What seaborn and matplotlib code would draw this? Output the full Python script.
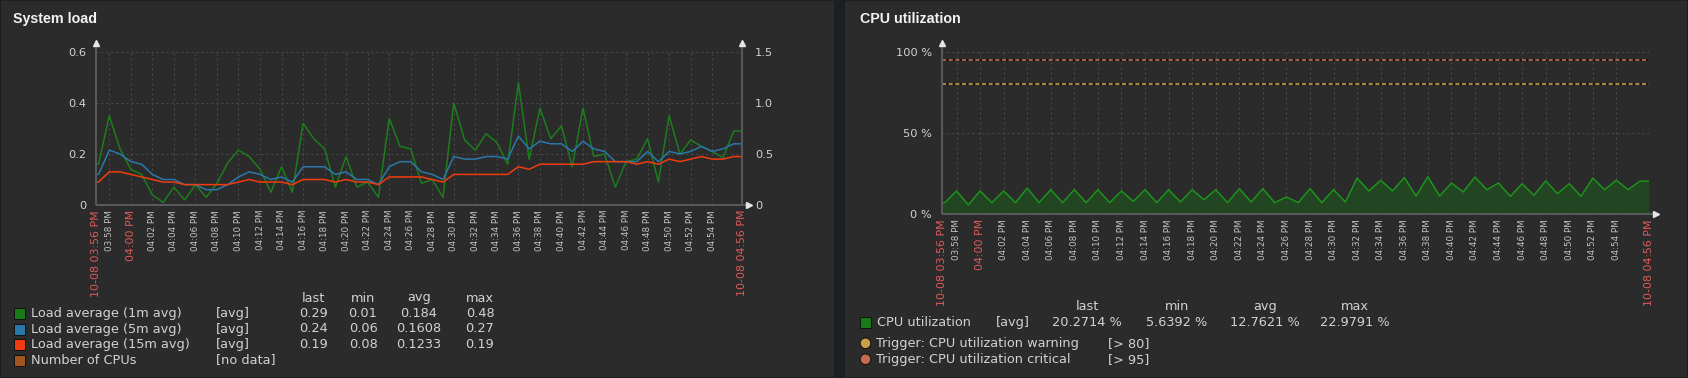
import numpy as np
import pandas as pd
import matplotlib
matplotlib.use("Agg")
import matplotlib.pyplot as plt
import seaborn as sns
from matplotlib.patches import Rectangle, Circle

W, H = 1688, 378

# one reading per minute, minutes after 15:00 (03:57 PM .. 04:56 PM)
minutes = list(range(57, 117))
range_start = 56 + 46 / 60
range_end = range_start + 60

load_1m = [0.16, 0.35, 0.22, 0.14, 0.12, 0.04, 0.01, 0.07, 0.02, 0.08,
           0.03, 0.085, 0.165, 0.215, 0.19, 0.14, 0.05, 0.15, 0.05, 0.32,
           0.26, 0.22, 0.07, 0.19, 0.07, 0.09, 0.03, 0.34, 0.23, 0.22,
           0.085, 0.10, 0.03, 0.40, 0.255, 0.215, 0.28, 0.245, 0.16, 0.48,
           0.18, 0.38, 0.26, 0.31, 0.15, 0.38, 0.19, 0.20, 0.07, 0.17,
           0.18, 0.26, 0.09, 0.35, 0.20, 0.255, 0.23, 0.21, 0.185, 0.29]
load_5m = [0.12, 0.215, 0.20, 0.17, 0.16, 0.12, 0.10, 0.10, 0.08, 0.08,
           0.06, 0.06, 0.08, 0.11, 0.13, 0.12, 0.10, 0.11, 0.09, 0.15,
           0.15, 0.15, 0.12, 0.13, 0.10, 0.10, 0.08, 0.15, 0.17, 0.17,
           0.13, 0.12, 0.10, 0.19, 0.18, 0.18, 0.19, 0.19, 0.18, 0.27,
           0.22, 0.25, 0.24, 0.24, 0.21, 0.25, 0.22, 0.21, 0.17, 0.17,
           0.17, 0.21, 0.17, 0.21, 0.20, 0.21, 0.23, 0.21, 0.22, 0.24]
load_15m = [0.09, 0.13, 0.13, 0.12, 0.11, 0.10, 0.09, 0.09, 0.08, 0.08,
            0.08, 0.08, 0.08, 0.09, 0.10, 0.09, 0.09, 0.09, 0.08, 0.10,
            0.10, 0.10, 0.09, 0.10, 0.09, 0.09, 0.08, 0.11, 0.11, 0.11,
            0.11, 0.10, 0.09, 0.12, 0.12, 0.12, 0.12, 0.12, 0.12, 0.15,
            0.14, 0.16, 0.16, 0.16, 0.16, 0.16, 0.17, 0.17, 0.17, 0.17,
            0.16, 0.17, 0.16, 0.18, 0.17, 0.18, 0.19, 0.18, 0.18, 0.19]
cpu_util = [7.0, 14.2, 5.64, 14.2, 7.0, 14.2, 7.0, 16.0, 7.0, 15.0,
            7.0, 15.0, 7.0, 15.0, 7.0, 14.2, 7.8, 15.0, 7.0, 15.0,
            7.4, 15.0, 8.8, 15.0, 7.0, 15.6, 7.4, 15.6, 7.0, 10.5,
            7.0, 15.6, 7.0, 15.0, 7.4, 22.2, 14.2, 20.8, 14.2, 22.5,
            11.1, 22.98, 11.1, 19.1, 13.6, 22.8, 15.0, 19.1, 10.9, 18.7,
            11.5, 20.4, 12.6, 18.7, 10.9, 22.2, 15.0, 20.8, 15.0, 20.27]

load_names = ["Load average (1m avg)", "Load average (5m avg)",
              "Load average (15m avg)", "Number of CPUs"]
load_funcs = ["[avg]", "[avg]", "[avg]", "[no data]"]
load_colors = ["#1a7a1a", "#2a78aa", "#f03c0e", "#a0561e"]
load_last = ["0.29", "0.24", "0.19"]
load_min = ["0.01", "0.06", "0.08"]
load_avg = ["0.184", "0.1608", "0.1233"]
load_max = ["0.48", "0.27", "0.19"]

cpu_name = "CPU utilization"
cpu_stats = ["20.2714 %", "5.6392 %", "12.7621 %", "22.9791 %"]
trigger_names = ["Trigger: CPU utilization warning", "Trigger: CPU utilization critical"]
trigger_levels = [80, 95]
trigger_colors = ["#c9a04a", "#c46a52"]

sns.set_theme(style="dark", rc={"figure.facecolor": "#1c1f22",
                                "axes.facecolor": "none",
                                "lines.scale_dashes": False})
plt.rcParams["font.family"] = ["DejaVu Sans"]

PANEL = "#2b2b2b"
AXIS = "#585858"
GRID = "#4c4c4c"
TXT = "#d2d2d2"
RED = "#e05a5a"


def frame(left, top, width, height):
    return [left / W, 1 - (top + height) / H, width / W, height / H]


def ext(vals):
    # zabbix draws the first/last value out to the edges of the period
    return [vals[0]] + list(vals) + [vals[-1]]


def clock(m):
    m = int(m)
    return f"{15 + m // 60 - 12:02d}:{m % 60:02d} PM"


xs = [range_start] + minutes + [range_end]
ticks = [range_start] + list(range(58, 115, 2)) + [range_end]
tick_labels = ["10-08 " + clock(range_start)] + [clock(m) for m in ticks[1:-1]] + ["10-08 " + clock(range_end)]

fig = plt.figure(figsize=(W / 100, H / 100), dpi=100)

bg = fig.add_axes([0, 0, 1, 1])
bg.set_xlim(0, W)
bg.set_ylim(H, 0)
bg.axis("off")
for x0, x1 in [(1, 834), (845, 1687)]:
    bg.add_patch(Rectangle((x0, 1), x1 - x0, 376, facecolor=PANEL, edgecolor="none"))


def style_axes(ax, pw, ph, right_axis=False):
    ax.set_xlim(range_start, range_end)
    for s in ax.spines.values():
        s.set_visible(False)
    ax.grid(True, color=GRID, linestyle=(0, (1.4, 2.2)), linewidth=0.75)
    ax.set_axisbelow(True)
    ax.set_xlabel("")
    ax.set_ylabel("")
    ax.set_xticks(ticks, tick_labels, rotation=90)
    for lbl, t in zip(ax.get_xticklabels(), ticks):
        major = t in (range_start, range_end) or int(t) % 60 == 0
        lbl.set_color(RED if major else "#c4c4c4")
        lbl.set_fontsize(7.9 if major else 6.3)
    ax.tick_params(axis="x", length=0, pad=3.6)
    ax.tick_params(axis="y", length=0, pad=7.2, labelsize=8.2, labelcolor=TXT)
    up = 1 + 9 / ph
    kw = dict(transform=ax.transAxes, clip_on=False, color=AXIS, lw=1.5, solid_capstyle="butt", zorder=5)
    ax.plot([0, 0], [0, up], **kw)
    ax.plot([0, 1 + 4 / pw], [0, 0], **kw)
    mk = dict(transform=ax.transAxes, clip_on=False, color="#e6e6e6", ms=4.2, zorder=6, ls="none")
    ax.plot([0], [up], marker="^", **mk)
    ax.plot([1 + 7 / pw], [0], marker=">", **mk)
    if right_axis:
        ax.plot([1, 1], [0, up], **kw)
        ax.plot([1], [up], marker="^", **mk)


# ---- System load ----
ax1 = fig.add_axes(frame(96, 52, 646, 153))
load_df = pd.DataFrame({"minute": xs, load_names[0]: ext(load_1m),
                        load_names[1]: ext(load_5m), load_names[2]: ext(load_15m)})
load_long = load_df.melt(id_vars="minute", var_name="series", value_name="value")
sns.lineplot(data=load_long, x="minute", y="value", hue="series",
             palette=dict(zip(load_names[:3], ["#1d7c1d", "#2a78aa", "#f03c0e"])),
             estimator=None, legend=False, linewidth=1.1, ax=ax1)
ax1.set_ylim(0, 0.6)
ax1.set_yticks([0, 0.2, 0.4, 0.6], ["0", "0.2", "0.4", "0.6"])
style_axes(ax1, 646, 153, right_axis=True)

ax1r = ax1.twinx()
ax1r.set_ylim(0, 1.5)
ax1r.set_yticks([0, 0.5, 1.0, 1.5], ["0", "0.5", "1.0", "1.5"])
ax1r.grid(False)
for s in ax1r.spines.values():
    s.set_visible(False)
ax1r.tick_params(axis="y", length=0, pad=9.4, labelsize=8.2, labelcolor=TXT)

# ---- CPU utilization ----
ax2 = fig.add_axes(frame(942, 52, 707, 162))
cpu_df = pd.DataFrame({"minute": xs, "cpu": ext(cpu_util)})
ax2.fill_between(cpu_df["minute"], cpu_df["cpu"], color="#214a21", alpha=0.85, lw=0, zorder=2)
sns.lineplot(data=cpu_df, x="minute", y="cpu", color="#1c941c", linewidth=1.1,
             estimator=None, ax=ax2, zorder=3)
for lvl, c in zip(trigger_levels, trigger_colors):
    ax2.axhline(lvl, color="#101010", lw=1.2, zorder=3)
    ax2.axhline(lvl, color=c, lw=1.2, linestyle=(0, (2.9, 1.9)), zorder=4)
ax2.set_ylim(0, 100)
ax2.set_yticks([0, 50, 100], ["0 %", "50 %", "100 %"])
style_axes(ax2, 707, 162)

# ---- titles ----
bg.text(13, 19, "System load", fontsize=10.3, fontweight="bold", color="#f2f2f2",
        va="center", family=["Liberation Sans", "DejaVu Sans"])
bg.text(860, 19, "CPU utilization", fontsize=10.3, fontweight="bold", color="#f2f2f2",
        va="center", family=["Liberation Sans", "DejaVu Sans"])

# ---- legend: system load ----
fs = 9.3
cols = [313, 363, 419, 480]
for cx, head in zip(cols, ["last", "min", "avg", "max"]):
    bg.text(cx, 298, head, fontsize=fs, color=TXT, ha="center", va="center")
rows = [313.5, 329, 344.5, 360]
for i, y in enumerate(rows):
    bg.add_patch(Rectangle((13.5, y - 5.5), 11, 11, facecolor=load_colors[i], edgecolor="#111111", lw=0.7))
    bg.text(31, y, load_names[i], fontsize=fs, color=TXT, va="center")
    bg.text(216, y, load_funcs[i], fontsize=fs, color=TXT, va="center")
    if i < 3:
        for cx, vals in zip(cols, [load_last, load_min, load_avg, load_max]):
            bg.text(cx, y, vals[i], fontsize=fs, color=TXT, ha="center", va="center")

# ---- legend: cpu ----
cols2 = [1087, 1177, 1265, 1355]
for cx, head, val in zip(cols2, ["last", "min", "avg", "max"], cpu_stats):
    bg.text(cx, 306.7, head, fontsize=fs, color=TXT, ha="center", va="center")
    bg.text(cx, 322.7, val, fontsize=fs, color=TXT, ha="center", va="center")
bg.add_patch(Rectangle((860, 317.2), 11, 11, facecolor="#1a7a1a", edgecolor="#111111", lw=0.7))
bg.text(877, 322.7, cpu_name, fontsize=fs, color=TXT, va="center")
bg.text(996, 322.7, "[avg]", fontsize=fs, color=TXT, va="center")
for y, name, lvl, c in zip([343.3, 359.3], trigger_names, trigger_levels, trigger_colors):
    bg.add_patch(Circle((865.5, y), 5.3, facecolor=c, edgecolor="#111111", lw=0.7))
    bg.text(876, y, name, fontsize=fs, color=TXT, va="center")
    bg.text(1108, y, f"[> {lvl}]", fontsize=fs, color=TXT, va="center")

fig.savefig("out.png", dpi=100, facecolor=fig.get_facecolor())
